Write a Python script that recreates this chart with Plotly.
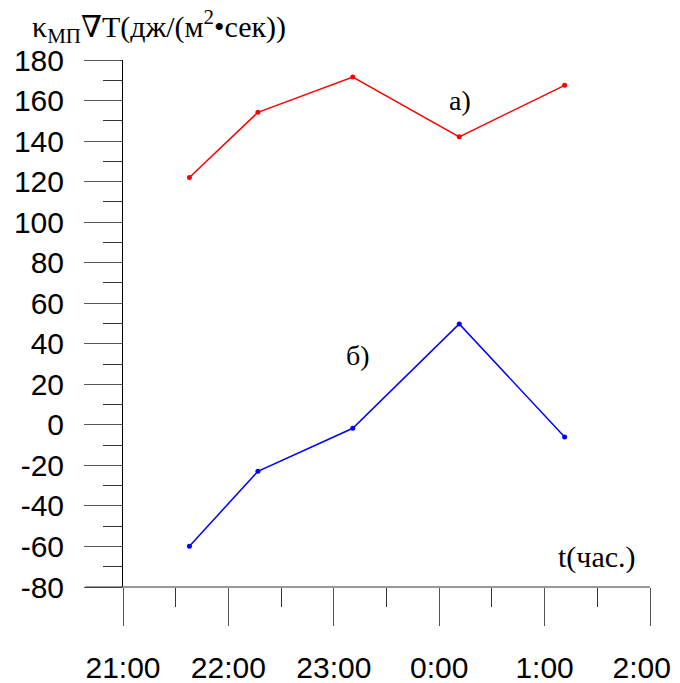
import plotly.graph_objects as go

# time in hours (24 = 0:00 next day)
times = [21.63, 22.28, 23.18, 24.19, 25.19]
series_a = [122.0, 154.2, 171.6, 142.1, 167.5]
series_b = [-59.9, -22.9, -1.7, 49.8, -6.0]
x_tickvals = [21, 22, 23, 24, 25, 26]
x_ticktext = ["21:00", "22:00", "23:00", "0:00", "1:00", "2:00\u00a0\u00a0"]
y_tickvals = list(range(-80, 181, 20))
y_ticktext = [str(v) for v in y_tickvals]

fig = go.Figure()
fig.add_trace(go.Scatter(x=times, y=series_a, mode="lines+markers",
                         line=dict(color="#FF0000", width=1.5),
                         marker=dict(color="#FF0000", size=5), showlegend=False))
fig.add_trace(go.Scatter(x=times, y=series_b, mode="lines+markers",
                         line=dict(color="#0000FF", width=1.5),
                         marker=dict(color="#0000FF", size=5), showlegend=False))

tick_font = dict(family="Liberation Sans, Arial, sans-serif", size=30, color="black")
serif = "Liberation Serif, Times New Roman, DejaVu Serif, serif"

fig.update_layout(
    width=672, height=675,
    margin=dict(l=115, r=30, t=52, b=96, autoexpand=False),
    plot_bgcolor="white", paper_bgcolor="white",
    xaxis=dict(range=[21, 26], tickvals=x_tickvals, ticktext=x_ticktext, automargin=False,
               ticks="outside", ticklen=38, tickcolor="#555", tickwidth=1,
               minor=dict(dtick=0.5, tick0=21, ticks="outside", ticklen=19, tickcolor="#333", tickwidth=1),
               showgrid=False, zeroline=False, showline=False, ticklabeloverflow="allow",
               tickfont=tick_font, ticklabelstandoff=16),
    yaxis=dict(range=[-80, 180], tickvals=y_tickvals, ticktext=y_ticktext, automargin=False,
               ticks="outside", ticklen=38, tickcolor="#555", tickwidth=1,
               minor=dict(dtick=10, tick0=-80, ticks="outside", ticklen=19, tickcolor="#333", tickwidth=1),
               showgrid=False, zeroline=False, showline=True, linecolor="black", linewidth=1,
               ticklabeloverflow="allow",
               tickfont=tick_font, ticklabelstandoff=14),
)

fig.add_shape(type="line", xref="paper", yref="paper", x0=-0.0715, x1=1.0, y0=0, y1=0,
              line=dict(color="#333", width=1))

fig.add_annotation(xref="paper", yref="paper", x=-0.176, y=1.0, yshift=34,
                   xanchor="left", yanchor="middle", showarrow=False,
                   text="κ<sub>МП</sub>∇T(дж/(м<sup>2</sup>•сек))",
                   font=dict(family=serif, size=30, color="black"))
fig.add_annotation(x=24.2, y=160, xref="x", yref="y", showarrow=False,
                   text="а)", font=dict(family=serif, size=28, color="black"))
fig.add_annotation(x=23.23, y=34, xref="x", yref="y", showarrow=False,
                   text="б)", font=dict(family=serif, size=28, color="black"))
fig.add_annotation(x=25.5, y=-65, xref="x", yref="y", showarrow=False,
                   text="t(час.)", font=dict(family=serif, size=30, color="black"))

fig.write_html("out.html")
